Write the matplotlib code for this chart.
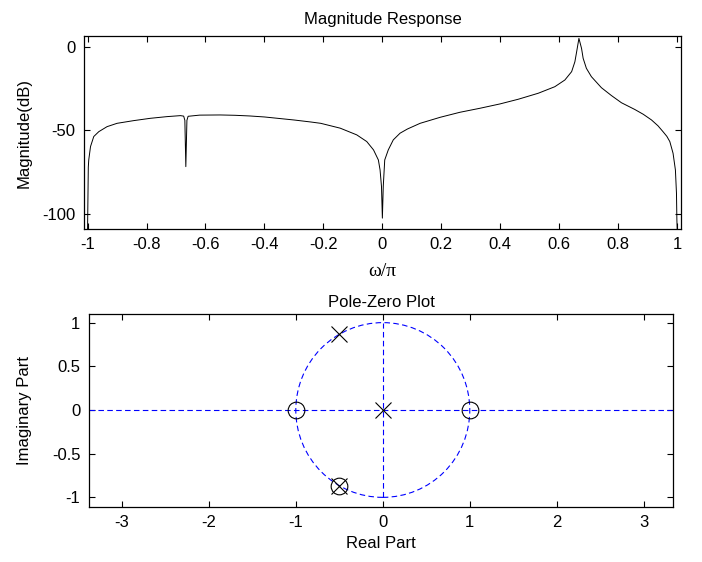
import numpy as np
import matplotlib
matplotlib.use('Agg')
import matplotlib.pyplot as plt
from matplotlib.patches import Circle

# magnitude response (omega/pi, dB)
w_over_pi = [-1.0, -0.9975, -0.996, -0.990, -0.979, -0.962, -0.934, -0.900,
             -0.844, -0.787, -0.731, -0.685, -0.674, -0.670, -0.6667, -0.663,
             -0.659, -0.62, -0.55, -0.5, -0.45, -0.4, -0.35, -0.30, -0.243,
             -0.209, -0.143, -0.087, -0.053, -0.030, -0.0136, -0.0078, -0.003,
             0.0, 0.003, 0.008, 0.020, 0.037, 0.060, 0.085, 0.128, 0.196,
             0.263, 0.331, 0.399, 0.461, 0.529, 0.585, 0.619, 0.642, 0.653,
             0.659, 0.6667, 0.6756, 0.681, 0.692, 0.709, 0.743, 0.777, 0.811,
             0.856, 0.885, 0.913, 0.935, 0.952, 0.965, 0.975, 0.986, 0.994,
             0.9976, 0.999, 1.0]
mag_db = [-109, -72, -67.7, -59.7, -53.7, -50.8, -47.8, -45.8,
          -44.2, -42.8, -41.8, -41.2, -41.5, -44, -71.7, -44,
          -41.6, -40.9, -40.8, -41.0, -41.4, -42.0, -42.9, -43.8, -45.0,
          -45.8, -48.7, -52.7, -56.7, -61.7, -67.7, -73.7, -83.6,
          -102.5, -83.6, -67.7, -61.7, -55.7, -51.7, -49.2, -45.8, -42.2,
          -39.2, -36.8, -34.2, -31.4, -27.8, -23.9, -19.9, -14.9, -9.0,
          -3.0, 5.0, -1.0, -6.9, -12.9, -17.9, -24.5, -29.2, -33.5,
          -37.5, -40.4, -43.8, -47.3, -50.8, -53.6, -56.7, -63.7, -73.7,
          -87.6, -103.5, -109]

# poles and zeros
zeros_re = [-1.0, 1.0, -0.5]
zeros_im = [0.0, 0.0, -0.866]
poles_re = [0.0, -0.5, -0.5]
poles_im = [0.0, 0.866, -0.866]

mag_xticks = [-1, -0.8, -0.6, -0.4, -0.2, 0, 0.2, 0.4, 0.6, 0.8, 1]
mag_xticklabels = ['-1', '-0.8', '-0.6', '-0.4', '-0.2', '0', '0.2', '0.4', '0.6', '0.8', '1']
mag_yticks = [-100, -50, 0]
pz_xticks = [-3, -2, -1, 0, 1, 2, 3]
pz_yticks = [-1, -0.5, 0, 0.5, 1]
pz_yticklabels = ['-1', '-0.5', '0', '0.5', '1']

plt.rcParams['font.family'] = ['Liberation Sans', 'DejaVu Sans']
plt.rcParams['font.size'] = 12
plt.rcParams['axes.unicode_minus'] = False

fig = plt.figure(figsize=(7.02, 5.62), dpi=100)

# top panel: magnitude response
ax1 = fig.add_axes([0.1197, 0.5925, 0.8504, 0.3434])
ax1.plot(w_over_pi, mag_db, color='k', lw=0.7)
ax1.set_xlim(-1.012, 1.013)
ax1.set_ylim(-109, 6.4)
ax1.set_xticks(mag_xticks)
ax1.set_xticklabels(mag_xticklabels)
ax1.set_yticks(mag_yticks)
ax1.set_title('Magnitude Response', fontsize=12, pad=9)
ax1.set_ylabel('Magnitude(dB)')
ax1.yaxis.set_label_coords(-0.087, 0.5)
ax1.set_xlabel('\u03c9/\u03c0', family=['Liberation Serif', 'DejaVu Serif'],
               fontsize=14, labelpad=8)

# bottom panel: pole-zero plot
ax2 = fig.add_axes([0.1264, 0.0984, 0.8328, 0.3423])
dash = (0, (5, 3))
ax2.add_patch(Circle((0, 0), 1, fill=False, ls=dash, color='b', lw=0.8))
ax2.axhline(0, ls=dash, color='b', lw=0.8)
ax2.vlines(0, -1, 1, linestyles=[dash], colors='b', lw=0.8)
ax2.plot(zeros_re, zeros_im, 'o', mfc='none', mec='k', ms=12, mew=0.8)
ax2.plot(poles_re, poles_im, 'x', color='k', ms=12, mew=0.8)
ax2.set_xlim(-3.38, 3.34)
ax2.set_ylim(-1.107, 1.095)
ax2.set_xticks(pz_xticks)
ax2.set_yticks(pz_yticks)
ax2.set_yticklabels(pz_yticklabels)
ax2.set_title('Pole-Zero Plot', fontsize=12, pad=5)
ax2.set_xlabel('Real Part')
ax2.set_ylabel('Imaginary Part')
ax2.yaxis.set_label_coords(-0.097, 0.5)

# matlab style box with inward ticks
for ax in (ax1, ax2):
    ax.tick_params(direction='in', top=True, right=True, length=4, width=0.8, pad=6)
    for s in ax.spines.values():
        s.set_linewidth(0.9)

fig.savefig('out.png', dpi=100)
